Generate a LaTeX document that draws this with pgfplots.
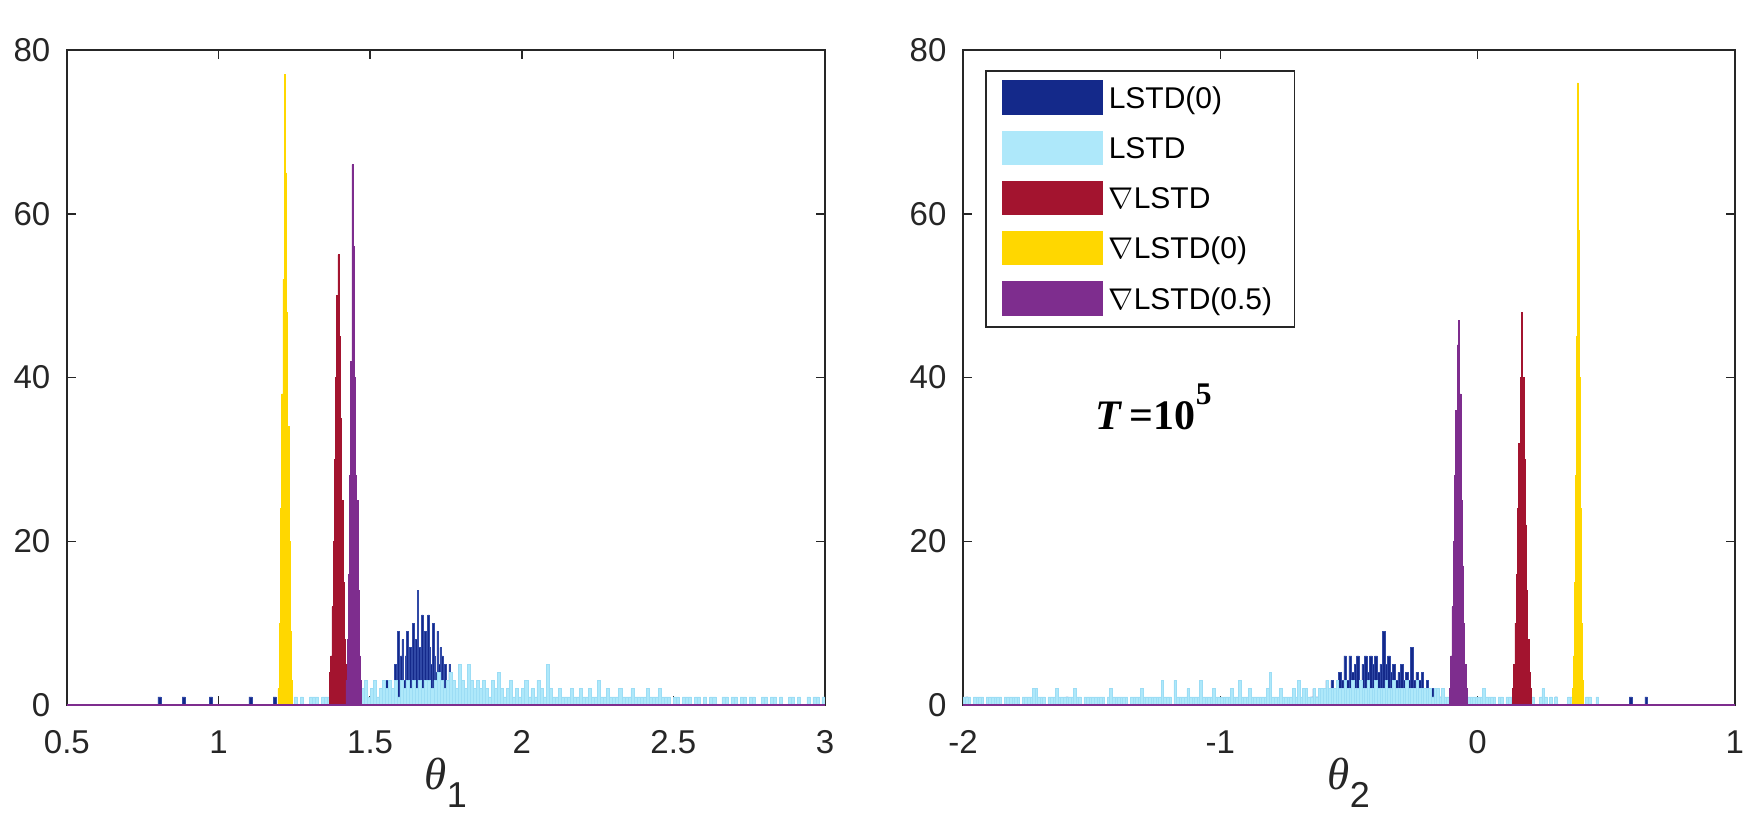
\documentclass[border=0pt]{standalone}
\usepackage{pgfplots}
\pgfplotsset{compat=1.18}
\usepackage{fontspec}
\setmainfont{Liberation Sans}
\newfontfamily\tnr{Liberation Serif}
\definecolor{cDark}{HTML}{14298A}
\definecolor{cDarkEdge}{HTML}{3049A6}
\definecolor{cLight}{HTML}{AEE8FA}
\definecolor{cLightEdge}{HTML}{9CDDF5}
\definecolor{cRed}{HTML}{A3142F}
\definecolor{cYel}{HTML}{FFD700}
\definecolor{cPur}{HTML}{7E2D8E}
\definecolor{axgray}{HTML}{262626}
\pgfplotsset{
  myaxis/.style={
    scale only axis, height=218.3pt,
    ymin=0, ymax=80, ytick={0,20,40,60,80}, yticklabels={0,20,40,60,80},
    tick align=inside, major tick length=3pt,
    axis line style={draw=axgray, line width=0.5pt},
    tick style={draw=axgray, line width=0.5pt},
    ticklabel style={font=\fontsize{11}{13}\selectfont, text=axgray},
    xticklabel style={yshift=-5pt},
    yticklabel style={xshift=-2pt},
    /pgf/number format/assume math mode=true,
    xlabel style={at={(axis description cs:0.5,0)}, anchor=base, yshift=-28pt, text=axgray},
  },
  hdark/.style={ybar interval, fill=cDark, draw=cDarkEdge, line width=0.2pt, forget plot},
  hlight/.style={ybar interval, fill=cLight, draw=cLightEdge, line width=0.2pt, forget plot},
  hred/.style={ybar interval, fill=cRed, draw=cRed, line width=0.2pt, forget plot},
  hyel/.style={ybar interval, fill=cYel, draw=cYel, line width=0.2pt, forget plot},
  hpur/.style={ybar interval, fill=cPur, draw=cPur, line width=0.2pt, forget plot},
}
\begin{document}
\begin{tikzpicture}
\useasboundingbox (0pt,0pt) rectangle (587pt,276.3pt);
% ---------------- left: theta_1 ----------------
\begin{axis}[myaxis, at={(22.3pt,41.3pt)}, anchor=south west, width=252.7pt,
  xmin=0.5, xmax=3, xtick={0.5,1,1.5,2,2.5,3}, xticklabels={0.5,1,1.5,2,2.5,3},
  xlabel={{\tnr\itshape\fontsize{15}{15}\selectfont θ}\raisebox{-6pt}{\fontsize{12}{12}\selectfont 1}}]
% LSTD(0)
\addplot[hdark] coordinates {(0.80,1)(0.81,0)(0.88,1)(0.89,0)(0.97,1)(0.98,0)(1.10,1)(1.11,0)(1.18,1)(1.19,0)
(1.55,3)(1.56,2)(1.57,0)(1.575,2)(1.58,5)(1.585,3)(1.59,9)(1.595,4)(1.60,6)(1.605,8)(1.61,3)(1.615,6)(1.62,9)
(1.625,5)(1.63,7)(1.635,4)(1.64,10)(1.645,6)(1.65,8)(1.655,14)(1.66,7)(1.665,5)(1.67,11)(1.675,6)(1.68,9)
(1.685,4)(1.69,11)(1.695,7)(1.70,5)(1.705,10)(1.71,6)(1.715,4)(1.72,9)(1.725,5)(1.73,7)(1.735,6)(1.74,4)
(1.745,5)(1.75,3)(1.755,2)(1.76,5)(1.765,2)(1.77,0)};
% LSTD
\addplot[hlight] coordinates {
(1.25,1)(1.26,0)(1.27,1)(1.28,0)(1.29,0)(1.30,1)(1.31,1)(1.32,1)(1.33,0)(1.34,1)
(1.35,1)(1.36,1)(1.37,1)(1.38,1)(1.39,0)(1.40,1)(1.41,1)(1.42,2)(1.43,1)(1.44,2)
(1.45,1)(1.46,2)(1.47,2)(1.48,3)(1.49,1)(1.50,2)(1.51,3)(1.52,1)(1.53,2)(1.54,3)
(1.55,2)(1.56,3)(1.57,2)(1.58,3)(1.59,1)(1.60,3)(1.61,2)(1.62,3)(1.63,2)(1.64,3)
(1.65,2)(1.66,3)(1.67,2)(1.68,3)(1.69,3)(1.70,2)(1.71,3)(1.72,4)(1.73,3)(1.74,2)
(1.75,3)(1.76,4)(1.77,3)(1.78,2)(1.79,5)(1.80,3)(1.81,2)(1.82,5)(1.83,3)(1.84,2)
(1.85,3)(1.86,2)(1.87,3)(1.88,2)(1.89,1)(1.90,3)(1.91,2)(1.92,4)(1.93,2)(1.94,1)
(1.95,2)(1.96,3)(1.97,1)(1.98,2)(1.99,1)(2.00,2)(2.01,3)(2.02,1)(2.03,2)(2.04,1)
(2.05,3)(2.06,2)(2.07,1)(2.08,5)(2.09,2)(2.10,1)(2.11,1)(2.12,2)(2.13,1)(2.14,1)
(2.15,1)(2.16,2)(2.17,1)(2.18,1)(2.19,2)(2.20,1)(2.21,1)(2.22,2)(2.23,1)(2.24,1)
(2.25,3)(2.26,1)(2.27,1)(2.28,2)(2.29,1)(2.30,1)(2.31,1)(2.32,2)(2.33,1)(2.34,1)
(2.35,1)(2.36,2)(2.37,1)(2.38,1)(2.39,1)(2.40,1)(2.41,2)(2.42,1)(2.43,1)(2.44,1)
(2.45,2)(2.46,1)(2.47,1)(2.48,1)(2.49,0)(2.50,1)(2.51,1)(2.52,0)(2.53,1)(2.54,1)
(2.55,1)(2.56,0)(2.57,1)(2.58,1)(2.59,0)(2.60,1)(2.61,0)(2.62,1)(2.63,1)(2.64,0)
(2.65,0)(2.66,1)(2.67,1)(2.68,0)(2.69,1)(2.70,1)(2.71,0)(2.72,1)(2.73,1)(2.74,0)
(2.75,1)(2.76,1)(2.77,0)(2.78,0)(2.79,1)(2.80,1)(2.81,0)(2.82,1)(2.83,1)(2.84,0)
(2.85,1)(2.86,0)(2.87,0)(2.88,1)(2.89,1)(2.90,0)(2.91,1)(2.92,0)(2.93,0)(2.94,1)
(2.95,0)(2.96,1)(2.97,1)(2.98,0)(2.99,1)(3.00,0)};
% nabla LSTD
\addplot[hred] coordinates {(1.366,4)(1.370,6)(1.374,12)(1.378,20)(1.382,30)(1.386,40)(1.390,50)(1.394,55)
(1.398,45)(1.402,35)(1.406,25)(1.410,15)(1.414,8)(1.418,5)(1.422,3)(1.426,0)};
% nabla LSTD(0)
\addplot[hyel] coordinates {(1.196,2)(1.200,10)(1.204,24)(1.208,38)(1.212,52)(1.216,77)(1.220,65)(1.224,48)
(1.228,34)(1.232,20)(1.236,9)(1.240,3)(1.244,0)};
% nabla LSTD(0.5)
\addplot[hpur] coordinates {(1.420,3)(1.424,8)(1.428,16)(1.432,28)(1.436,42)(1.440,66)(1.444,56)(1.448,40)
(1.452,28)(1.456,25)(1.460,14)(1.464,6)(1.468,3)(1.472,0)};
\addplot[cPur, line width=0.8pt, forget plot] coordinates {(0.5,0)(3,0)};
\end{axis}
% ---------------- right: theta_2 ----------------
\begin{axis}[myaxis, at={(321pt,41.3pt)}, anchor=south west, width=257.3pt,
  xmin=-2, xmax=1, xtick={-2,-1,0,1}, xticklabels={-2,-1,0,1},
  xlabel={{\tnr\itshape\fontsize{15}{15}\selectfont θ}\raisebox{-6pt}{\fontsize{12}{12}\selectfont 2}},
  legend style={at={(axis description cs:0.0285,0.969)}, anchor=north west, draw=axgray, line width=0.5pt,
    fill=white, inner xsep=5.5pt, inner ysep=3pt, row sep=4.5pt, font=\fontsize{10}{12}\selectfont,
    nodes={inner ysep=1.5pt}, cells={anchor=west}},
  legend cell align=left]
\addlegendimage{legend image code/.code={\fill[cDark] (0pt,-4.8pt) rectangle (33pt,6.2pt);}}
\addlegendentry{LSTD(0)}
\addlegendimage{legend image code/.code={\fill[cLight] (0pt,-4.8pt) rectangle (33pt,6.2pt);}}
\addlegendentry{LSTD}
\addlegendimage{legend image code/.code={\fill[cRed] (0pt,-4.8pt) rectangle (33pt,6.2pt);}}
\addlegendentry{$\nabla$LSTD}
\addlegendimage{legend image code/.code={\fill[cYel] (0pt,-4.8pt) rectangle (33pt,6.2pt);}}
\addlegendentry{$\nabla$LSTD(0)}
\addlegendimage{legend image code/.code={\fill[cPur] (0pt,-4.8pt) rectangle (33pt,6.2pt);}}
\addlegendentry{$\nabla$LSTD(0.5)}
% LSTD(0)
\addplot[hdark] coordinates {(-1.99,1)(-1.98,0)(-1.60,1)(-1.59,0)
(-0.67,1)(-0.66,0)(-0.65,1)(-0.64,2)(-0.63,1)(-0.62,2)(-0.61,1)(-0.60,2)(-0.59,3)(-0.58,2)(-0.57,3)(-0.56,2)
(-0.55,3)(-0.54,4)(-0.53,3)(-0.52,6)(-0.51,3)(-0.50,6)(-0.49,4)(-0.48,5)(-0.47,6)(-0.46,3)(-0.45,5)(-0.44,6)
(-0.43,4)(-0.42,6)(-0.41,5)(-0.40,6)(-0.39,4)(-0.38,5)(-0.37,9)(-0.36,5)(-0.35,6)(-0.34,4)(-0.33,5)(-0.32,3)
(-0.31,4)(-0.30,5)(-0.29,3)(-0.28,4)(-0.27,3)(-0.26,7)(-0.25,3)(-0.24,4)(-0.23,3)(-0.22,4)(-0.21,2)(-0.20,3)
(-0.19,2)(-0.18,2)(-0.17,1)(-0.16,2)(-0.15,1)(-0.14,1)(-0.13,0)
(0.30,1)(0.31,0)(0.59,1)(0.60,0)(0.65,1)(0.66,0)};
% LSTD
\addplot[hlight] coordinates {
(-2.00,1)(-1.99,1)(-1.98,1)(-1.97,0)(-1.96,1)(-1.95,1)(-1.94,1)(-1.93,1)(-1.92,0)(-1.91,1)
(-1.90,1)(-1.89,1)(-1.88,1)(-1.87,1)(-1.86,1)(-1.85,0)(-1.84,1)(-1.83,1)(-1.82,1)(-1.81,1)
(-1.80,1)(-1.79,1)(-1.78,0)(-1.77,1)(-1.76,1)(-1.75,1)(-1.74,1)(-1.73,2)(-1.72,2)(-1.71,1)
(-1.70,1)(-1.69,1)(-1.68,0)(-1.67,1)(-1.66,1)(-1.65,1)(-1.64,2)(-1.63,1)(-1.62,1)(-1.61,1)
(-1.60,1)(-1.59,1)(-1.58,1)(-1.57,2)(-1.56,1)(-1.55,1)(-1.54,0)(-1.53,1)(-1.52,1)(-1.51,1)
(-1.50,1)(-1.49,1)(-1.48,1)(-1.47,1)(-1.46,1)(-1.45,0)(-1.44,1)(-1.43,2)(-1.42,1)(-1.41,1)
(-1.40,1)(-1.39,1)(-1.38,1)(-1.37,1)(-1.36,0)(-1.35,1)(-1.34,1)(-1.33,1)(-1.32,1)(-1.31,2)
(-1.30,1)(-1.29,1)(-1.28,1)(-1.27,1)(-1.26,1)(-1.25,1)(-1.24,1)(-1.23,3)(-1.22,1)(-1.21,1)
(-1.20,1)(-1.19,0)(-1.18,3)(-1.17,1)(-1.16,1)(-1.15,1)(-1.14,1)(-1.13,2)(-1.12,1)(-1.11,1)
(-1.10,1)(-1.09,1)(-1.08,3)(-1.07,1)(-1.06,1)(-1.05,1)(-1.04,1)(-1.03,2)(-1.02,1)(-1.01,1)
(-1.00,1)(-0.99,1)(-0.98,1)(-0.97,1)(-0.96,2)(-0.95,1)(-0.94,1)(-0.93,3)(-0.92,1)(-0.91,1)
(-0.90,1)(-0.89,2)(-0.88,1)(-0.87,1)(-0.86,1)(-0.85,1)(-0.84,1)(-0.83,1)(-0.82,2)(-0.81,4)
(-0.80,1)(-0.79,1)(-0.78,1)(-0.77,2)(-0.76,1)(-0.75,1)(-0.74,1)(-0.73,1)(-0.72,2)(-0.71,1)
(-0.70,3)(-0.69,1)(-0.68,2)(-0.67,2)(-0.66,1)(-0.65,1)(-0.64,2)(-0.63,1)(-0.62,2)(-0.61,2)
(-0.60,2)(-0.59,3)(-0.58,2)(-0.57,2)(-0.56,2)(-0.55,3)(-0.54,2)(-0.53,2)(-0.52,3)(-0.51,2)
(-0.50,2)(-0.49,3)(-0.48,2)(-0.47,2)(-0.46,3)(-0.45,2)(-0.44,2)(-0.43,3)(-0.42,2)(-0.41,2)
(-0.40,3)(-0.39,2)(-0.38,2)(-0.37,2)(-0.36,3)(-0.35,2)(-0.34,2)(-0.33,3)(-0.32,2)(-0.31,2)
(-0.30,2)(-0.29,2)(-0.28,3)(-0.27,2)(-0.26,2)(-0.25,2)(-0.24,3)(-0.23,2)(-0.22,2)(-0.21,2)
(-0.20,2)(-0.19,2)(-0.18,1)(-0.17,2)(-0.16,2)(-0.15,1)(-0.14,2)(-0.13,1)(-0.12,1)(-0.11,2)
(-0.10,1)(-0.09,1)(-0.08,1)(-0.07,1)(-0.06,1)(-0.05,1)(-0.04,1)(-0.03,1)(-0.02,1)(-0.01,1)
(0.00,1)(0.01,1)(0.02,2)(0.03,1)(0.04,1)(0.05,1)(0.06,1)(0.07,0)(0.08,1)(0.09,1)
(0.10,0)(0.11,1)(0.12,1)(0.13,1)(0.14,1)(0.15,1)(0.16,1)(0.17,1)(0.18,0)(0.19,0)
(0.20,0)(0.21,1)(0.22,0)(0.23,0)(0.24,1)(0.25,2)(0.26,1)(0.27,0)(0.28,1)(0.29,0)
(0.30,1)(0.31,0)(0.32,0)(0.33,0)(0.34,0)(0.35,1)(0.36,1)(0.37,2)(0.38,1)(0.39,1)
(0.40,0)(0.41,0)(0.42,1)(0.43,1)(0.44,0)(0.45,0)(0.46,1)(0.47,0)};
% nabla LSTD
\addplot[hred] coordinates {(0.135,2)(0.140,5)(0.145,10)(0.150,16)(0.155,24)(0.160,32)(0.165,40)(0.170,48)
(0.175,40)(0.180,30)(0.185,22)(0.190,14)(0.195,8)(0.200,4)(0.205,2)(0.210,0)};
% nabla LSTD(0)
\addplot[hyel] coordinates {(0.368,2)(0.372,6)(0.376,15)(0.380,28)(0.384,45)(0.388,76)(0.392,58)(0.396,40)
(0.400,24)(0.404,10)(0.408,3)(0.412,0)};
% nabla LSTD(0.5)
\addplot[hpur] coordinates {(-0.110,2)(-0.105,6)(-0.100,12)(-0.095,20)(-0.090,28)(-0.085,36)(-0.080,44)
(-0.075,47)(-0.070,38)(-0.065,25)(-0.060,17)(-0.055,10)(-0.050,5)(-0.045,2)(-0.040,0)};
\addplot[cPur, line width=0.8pt, forget plot] coordinates {(-2,0)(1,0)};
\node[anchor=base west, font=\tnr\bfseries\fontsize{14}{14}\selectfont] at (axis cs:-1.525,33.6)
  {\textit{T}\,=10\raisebox{0.6em}{\fontsize{10.5}{10.5}\selectfont 5}};
\end{axis}
\end{tikzpicture}
\end{document}
